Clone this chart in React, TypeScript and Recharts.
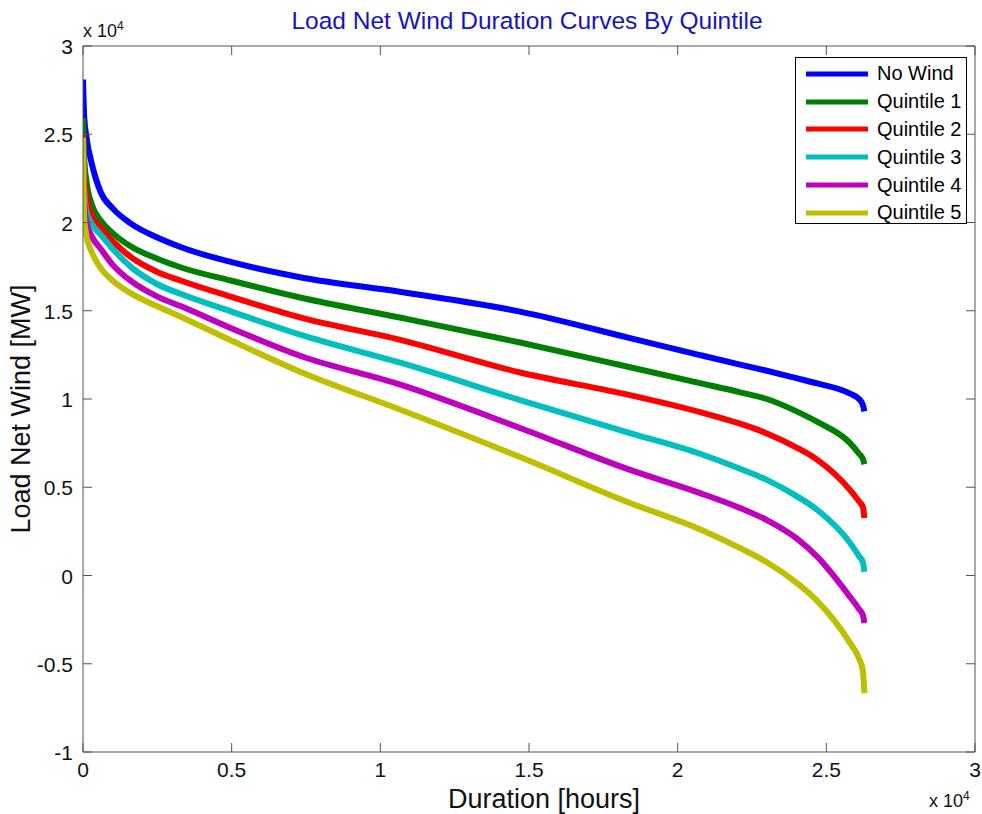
import { LineChart, Line, XAxis, YAxis, Legend, ReferenceLine } from 'recharts';

// duration axis (hours, sorted load net wind)
const hours = [0, 40, 120, 300, 600, 1000, 1600, 2500, 3300, 5000, 7300, 10700, 14700, 18400, 20750, 22100, 23000, 24000, 24700, 25800, 26100, 26230, 26280];

const noWind = [28100, 26000, 24800, 23300, 21700, 20800, 19950, 19150, 18600, 17750, 16900, 16060, 14950, 13450, 12490, 11950, 11600, 11180, 10880, 10300, 10000, 9650, 9300];
const quintile1 = [25900, 23700, 22300, 21000, 20100, 19400, 18650, 17950, 17450, 16700, 15750, 14600, 13200, 11800, 10900, 10380, 10000, 9300, 8700, 7500, 6900, 6600, 6300];
const quintile2 = [25000, 22800, 21500, 20400, 19700, 18950, 18050, 17200, 16700, 15780, 14620, 13340, 11500, 10220, 9260, 8600, 8050, 7250, 6550, 4840, 4200, 3880, 3260];
const quintile3 = [24500, 21800, 20600, 19900, 19300, 18500, 17500, 16500, 15950, 14950, 13650, 12040, 9940, 8070, 6900, 6050, 5420, 4500, 3710, 1840, 1100, 750, 200];
const quintile4 = [24200, 21200, 20000, 19200, 18500, 17600, 16700, 15800, 15250, 14000, 12450, 10800, 8360, 5980, 4670, 3820, 3140, 2100, 1050, -1220, -1900, -2250, -2690];
const quintile5 = [24800, 20300, 19200, 18300, 17400, 16700, 16000, 15250, 14650, 13300, 11550, 9380, 6710, 4110, 2620, 1550, 750, -420, -1450, -3830, -4700, -5400, -6660];

const seriesNames = ['No Wind', 'Quintile 1', 'Quintile 2', 'Quintile 3', 'Quintile 4', 'Quintile 5'];
const seriesValues = [noWind, quintile1, quintile2, quintile3, quintile4, quintile5];
const seriesColors = ['#0000ff', '#008000', '#ff0000', '#00bfbf', '#bf00bf', '#bfbf00'];

const xTicks = [0, 5000, 10000, 15000, 20000, 25000, 30000];
const yTicks = [-10000, -5000, 0, 5000, 10000, 15000, 20000, 25000, 30000];

const data = hours.map((h, i) => {
  const row: Record<string, number> = { hours: h };
  seriesValues.forEach((vals, k) => {
    row[`s${k}`] = vals[i];
  });
  return row;
});

const FONT = '"Liberation Sans", Arial, sans-serif';
const AXIS = '#555';
const TICK_LEN = 9;
const PLOT_TOP = 46;
const PLOT_RIGHT = 975;
const fmt = (v: number) => String(v / 10000);

// MATLAB style ticks: inward, mirrored on the top and right edges of the box.
// payload.coordinate is the true scale position (p.x/p.y get nudged at the ends).
const BottomTick = (p: any) => {
  const cx = p.payload.coordinate;
  return (
    <g>
      <line x1={cx} x2={cx} y1={p.y} y2={p.y - TICK_LEN} stroke={AXIS} />
      <line x1={cx} x2={cx} y1={PLOT_TOP} y2={PLOT_TOP + TICK_LEN} stroke={AXIS} />
      <text x={cx} y={p.y + 25} textAnchor="middle" fontSize={21} fill="#111" fontFamily={FONT}>
        {fmt(p.payload.value)}
      </text>
    </g>
  );
};
const LeftTick = (p: any) => {
  const cy = p.payload.coordinate;
  return (
    <g>
      <line x1={p.x} x2={p.x + TICK_LEN} y1={cy} y2={cy} stroke={AXIS} />
      <line x1={PLOT_RIGHT} x2={PLOT_RIGHT - TICK_LEN} y1={cy} y2={cy} stroke={AXIS} />
      <text x={p.x - 10} y={cy + 8} textAnchor="end" fontSize={21} fill="#111" fontFamily={FONT}>
        {fmt(p.payload.value)}
      </text>
    </g>
  );
};

const renderLegend = (props: any) => {
  const { payload } = props;
  return (
    <div
      style={{
        border: '1px solid #000',
        background: '#fff',
        width: 172,
        height: 167,
        boxSizing: 'border-box',
        paddingTop: 2,
      }}
    >
      {payload.map((entry: any) => (
        <div key={entry.value} style={{ display: 'flex', alignItems: 'center', height: 27.8 }}>
          <svg width={81} height={10}>
            <line x1={10} y1={5} x2={72} y2={5} stroke={entry.color} strokeWidth={5} />
          </svg>
          <span style={{ fontSize: 20, color: '#000', fontFamily: FONT }}>{entry.value}</span>
        </div>
      ))}
    </div>
  );
};

export default function App() {
  return (
    <div
      style={{
        position: 'absolute',
        left: 0,
        top: 0,
        width: 982,
        height: 814,
        overflow: 'hidden',
        background: '#fff',
        fontFamily: FONT,
      }}
    >
      <style>{'html, body { margin: 0; overflow: hidden; }'}</style>
      <div
        style={{
          position: 'absolute',
          left: 72,
          width: 910,
          top: 6,
          textAlign: 'center',
          fontSize: 24.5,
          lineHeight: 1.2,
          color: '#1414c4',
        }}
      >
        Load Net Wind Duration Curves By Quintile
      </div>
      <div style={{ position: 'absolute', left: 83, top: 20, fontSize: 18, lineHeight: 1, color: '#111' }}>
        x 10<sup style={{ fontSize: 12 }}>4</sup>
      </div>
      <div style={{ position: 'absolute', left: 929, top: 790, fontSize: 18, lineHeight: 1, color: '#111' }}>
        x 10<sup style={{ fontSize: 12 }}>4</sup>
      </div>
      <LineChart
        width={982}
        height={814}
        data={data}
        margin={{ top: PLOT_TOP, right: 982 - PLOT_RIGHT, bottom: 0, left: 0 }}
      >
        <XAxis
          dataKey="hours"
          type="number"
          domain={[0, 30000]}
          ticks={xTicks}
          allowDataOverflow
          height={62}
          tickLine={false}
          tickSize={0}
          tickMargin={0}
          tick={<BottomTick />}
          stroke={AXIS}
          label={{
            content: () => (
              <text x={544} y={808} textAnchor="middle" fontSize={27} fill="#111" fontFamily={FONT}>
                Duration [hours]
              </text>
            ),
          }}
        />
        <YAxis
          type="number"
          domain={[-10000, 30000]}
          ticks={yTicks}
          allowDataOverflow
          width={83}
          tickLine={false}
          tickSize={0}
          tickMargin={0}
          tick={<LeftTick />}
          stroke={AXIS}
          label={{
            content: () => (
              <text
                x={21}
                y={409}
                transform="rotate(-90 21 409)"
                textAnchor="middle"
                dominantBaseline="central"
                fontSize={27}
                fill="#111"
                fontFamily={FONT}
              >
                Load Net Wind [MW]
              </text>
            ),
          }}
        />
        <ReferenceLine y={30000} stroke={AXIS} strokeWidth={1} />
        <ReferenceLine x={30000} stroke={AXIS} strokeWidth={1} />
        <Legend
          layout="vertical"
          align="center"
          verticalAlign="middle"
          content={renderLegend}
          wrapperStyle={{ left: 795, top: 57, width: 172, height: 167 }}
        />
        {seriesNames.map((name, k) => (
          <Line
            key={name}
            type="monotone"
            dataKey={`s${k}`}
            name={name}
            stroke={seriesColors[k]}
            strokeWidth={6}
            dot={false}
            activeDot={false}
            isAnimationActive={false}
          />
        ))}
      </LineChart>
    </div>
  );
}
